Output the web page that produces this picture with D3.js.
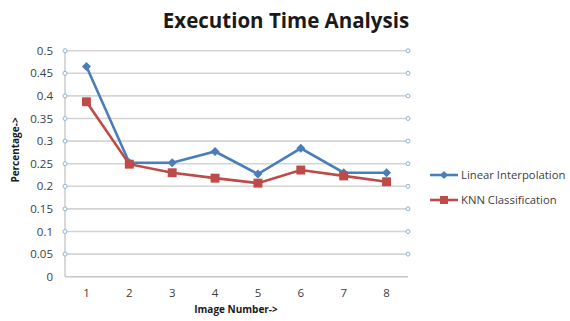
<!DOCTYPE html>
<html>
<head>
<meta charset="utf-8">
<script src="https://cdn.jsdelivr.net/npm/d3@7"></script>
<style>
  body { margin: 0; background: #fff; }
  svg text { font-family: "Open Sans", "Liberation Sans", sans-serif; }
</style>
</head>
<body>
<div class="container"></div>
<script>
const WIDTH = 570;
const HEIGHT = 321;

var categories = ['1', '2', '3', '4', '5', '6', '7', '8'];
var linearValues = [0.465, 0.252, 0.252, 0.277, 0.227, 0.284, 0.230, 0.230];
var knnValues = [0.387, 0.249, 0.230, 0.218, 0.207, 0.236, 0.223, 0.210];
var yTicks = [0, 0.05, 0.1, 0.15, 0.2, 0.25, 0.3, 0.35, 0.4, 0.45, 0.5];
var seriesNames = ['Linear Interpolation', 'KNN Classification'];

var translate = function(x, y) {
    return `translate(${x},${y})`;
};

var draw = function() {
    var svg = d3.select('.container').append('svg')
        .attr('width', WIDTH)
        .attr('height', HEIGHT);

    let left = 65, right = 408, top = 50.7, bottom = 276.7;

    let xScale = d3.scaleBand()
        .domain(categories)
        .range([left, right]);

    let yScale = d3.scaleLinear()
        .domain([0, 0.5])
        .range([bottom, top]);

    // gridlines
    svg.append('g').selectAll('line')
        .data(yTicks)
        .join('line')
        .attr('x1', left).attr('x2', right)
        .attr('y1', d => yScale(d)).attr('y2', d => yScale(d))
        .attr('stroke', d => d === 0 ? '#c8c8c8' : '#d4d4d4')
        .attr('stroke-width', 1.6);

    // left axis line
    svg.append('line')
        .attr('x1', left).attr('x2', left)
        .attr('y1', top).attr('y2', bottom)
        .attr('stroke', '#c8c8c8').attr('stroke-width', 1.4);

    // small circles at grid ends
    var dots = yTicks.filter(d => d > 0);
    [left, right].forEach(function(x) {
        svg.append('g').selectAll('circle')
            .data(dots)
            .join('circle')
            .attr('cx', x).attr('cy', d => yScale(d))
            .attr('r', 2)
            .attr('fill', '#fff')
            .attr('stroke', '#8eb4d0')
            .attr('stroke-width', 1);
    });

    let yAxis = d3.axisLeft(yScale).tickValues(yTicks).tickSize(0).tickPadding(12)
        .tickFormat(d => d3.format('')(+d.toFixed(2)));
    svg.append('g')
        .attr('transform', translate(left, 0))
        .call(yAxis)
        .call(g => g.select('.domain').remove())
        .selectAll('text')
        .attr('font-size', 11.5)
        .attr('fill', '#404040');

    let xAxis = d3.axisBottom(xScale).tickSize(0).tickPadding(12);
    svg.append('g')
        .attr('transform', translate(0, bottom))
        .call(xAxis)
        .call(g => g.select('.domain').remove())
        .selectAll('text')
        .attr('font-size', 11.5)
        .attr('fill', '#404040');

    // title and axis labels
    svg.append('text')
        .attr('x', 286).attr('y', 28)
        .attr('text-anchor', 'middle')
        .attr('font-size', 20.5)
        .attr('font-weight', 'bold')
        .attr('fill', '#1a1a1a')
        .text('Execution Time Analysis');

    svg.append('text')
        .attr('x', 236).attr('y', 313)
        .attr('text-anchor', 'middle')
        .attr('font-size', 10)
        .attr('font-weight', 'bold')
        .attr('fill', '#1a1a1a')
        .text('Image Number->');

    svg.append('text')
        .attr('transform', translate(19, 150) + ' rotate(-90)')
        .attr('text-anchor', 'middle')
        .attr('font-size', 10)
        .attr('font-weight', 'bold')
        .attr('fill', '#1a1a1a')
        .text('Percentage->');

    var cx = d => xScale(d) + xScale.bandwidth() / 2;
    var series = [
        { name: seriesNames[0], values: linearValues, color: '#4a7ebb', shape: d3.symbolSquare, size: 40, rot: 45 },
        { name: seriesNames[1], values: knnValues, color: '#be4b48', shape: d3.symbolSquare, size: 80, rot: 0 }
    ];

    var line = d3.line()
        .x((v, i) => cx(categories[i]))
        .y(v => yScale(v));

    series.forEach(function(s) {
        svg.append('path')
            .attr('d', line(s.values))
            .attr('fill', 'none')
            .attr('stroke', s.color)
            .attr('stroke-width', 2.6);
        svg.append('g').selectAll('path')
            .data(s.values)
            .join('path')
            .attr('transform', (v, i) => translate(cx(categories[i]), yScale(v)) + ` rotate(${s.rot})`)
            .attr('d', d3.symbol().type(s.shape).size(s.size))
            .attr('fill', s.color);
    });

    // legend
    var legend = svg.append('g');
    series.forEach(function(s, i) {
        let y = 175 + i * 25;
        legend.append('line')
            .attr('x1', 430).attr('x2', 458)
            .attr('y1', y).attr('y2', y)
            .attr('stroke', s.color).attr('stroke-width', 2.6);
        legend.append('path')
            .attr('transform', translate(444, y) + ` rotate(${s.rot})`)
            .attr('d', d3.symbol().type(s.shape).size(s.size * 0.8))
            .attr('fill', s.color);
        legend.append('text')
            .attr('x', 461).attr('y', y + 4)
            .attr('font-size', 11.3)
            .attr('fill', '#404040')
            .text(s.name);
    });
};
window.onload = draw;
</script>
</body>
</html>
